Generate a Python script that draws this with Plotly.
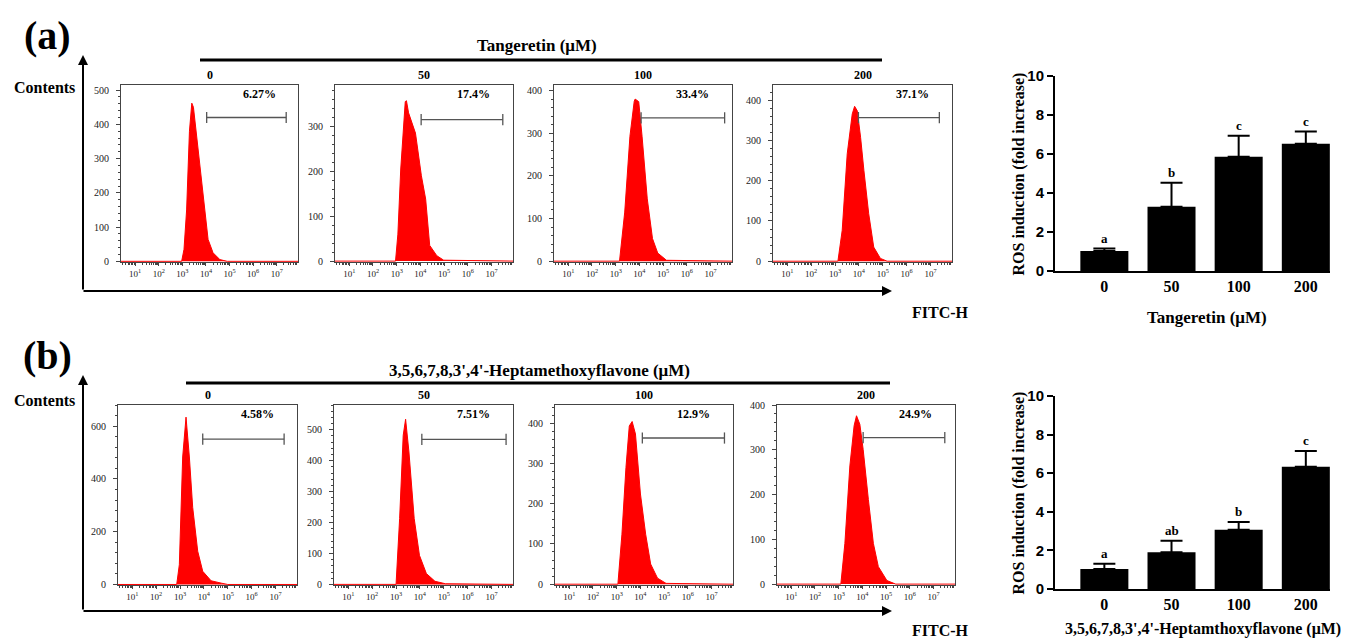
import plotly.graph_objects as go

W, H = 1356, 639
OFF = 8  # page body margin in the browser
FW, FH = W - OFF, H - OFF

# ---------------- data ----------------
concentrations = ["0", "50", "100", "200"]
pct_tan = ["6.27%", "17.4%", "33.4%", "37.1%"]
pct_hep = ["4.58%", "7.51%", "12.9%", "24.9%"]

decade_tickvals = [1e1, 1e2, 1e3, 1e4, 1e5, 1e6, 1e7]
decade_ticktext = ["10<sup>1</sup>", "10<sup>2</sup>", "10<sup>3</sup>", "10<sup>4</sup>",
                   "10<sup>5</sup>", "10<sup>6</sup>", "10<sup>7</sup>"]

# histograms: log10(FITC-H) vs counts
tan0_e = [0.4, 2.97, 3.07, 3.18, 3.30, 3.40, 3.47, 3.60, 3.88, 4.09, 4.30, 4.59, 4.9, 7.9]
tan0_c = [0, 0, 35, 150, 380, 462, 450, 365, 190, 64, 25, 5, 0, 0]
tan50_e = [0.4, 2.95, 3.05, 3.17, 3.36, 3.41, 3.50, 3.60, 3.79, 4.04, 4.22, 4.39, 4.69, 4.98, 7.9]
tan50_c = [0, 0, 60, 205, 355, 357, 330, 315, 285, 190, 138, 35, 12, 2, 0]
tan100_e = [0.4, 3.16, 3.38, 3.60, 3.78, 3.82, 3.97, 4.11, 4.33, 4.55, 4.77, 5.14, 7.9]
tan100_c = [0, 0, 115, 293, 375, 380, 374, 293, 146, 53, 19, 2, 0]
tan200_e = [0.4, 3.12, 3.30, 3.51, 3.72, 3.82, 3.93, 4.07, 4.21, 4.41, 4.62, 4.90, 5.18, 7.9]
tan200_c = [0, 0, 77, 267, 366, 385, 374, 308, 225, 118, 35, 7, 0, 0]

hep0_e = [0.4, 2.86, 2.97, 3.11, 3.25, 3.39, 3.53, 3.74, 3.95, 4.30, 4.73, 5.0, 7.9]
hep0_c = [0, 0, 75, 483, 634, 483, 292, 126, 50, 14, 5, 0, 0]
hep50_e = [0.4, 3.0, 3.15, 3.30, 3.40, 3.54, 3.76, 3.98, 4.27, 4.63, 5.07, 7.9]
hep50_c = [0, 0, 213, 482, 534, 428, 213, 94, 35, 10, 2, 0]
hep100_e = [0.4, 3.05, 3.22, 3.39, 3.53, 3.65, 3.79, 4.00, 4.22, 4.43, 4.72, 5.08, 7.9]
hep100_c = [0, 0, 124, 290, 393, 404, 373, 224, 124, 50, 15, 2, 0]
hep200_e = [0.4, 3.09, 3.26, 3.47, 3.65, 3.75, 3.89, 4.03, 4.25, 4.46, 4.67, 5.03, 5.4, 7.9]
hep200_c = [0, 0, 91, 264, 354, 376, 357, 301, 189, 91, 39, 8, 0, 0]

# gate markers (log10 start, log10 end, count level)
gate_tan_e = [[4.03, 7.40], [4.03, 7.47], [4.07, 7.59], [3.98, 7.37]]
gate_tan_y = [420, 315, 336, 357]
gate_hep_e = [[3.95, 7.36], [4.08, 7.61], [4.08, 7.54], [4.03, 7.47]]
gate_hep_y = [551, 469, 363, 327]

# y-axis maxima of the histograms
ymax_tan = [515, 392, 413, 438]
ymax_hep = [680, 580, 445, 400]
ydtick_tan = [100, 100, 100, 100]
ydtick_hep = [200, 100, 100, 100]

# ROS bar charts
ros_tan = [1.03, 3.29, 5.86, 6.53]
ros_tan_err = [0.12, 1.23, 1.07, 0.62]
ros_tan_sig = ["a", "b", "c", "c"]
ros_hep = [1.03, 1.91, 3.07, 6.34]
ros_hep_err = [0.28, 0.59, 0.40, 0.81]
ros_hep_sig = ["a", "ab", "b", "c"]

# ---------------- layout helpers ----------------
SERIF = "Liberation Serif"
SANS = "Liberation Sans"


def pxx(x):
    return (x - OFF) / FW


def pxy(y):
    return 1 - (y - OFF) / FH


fig = go.Figure()

hist_top = [(121, 298), (335, 513), (554, 732), (773, 952)]
hist_bot = [(118, 297), (334, 513), (555, 733), (777, 955)]
top_y = (85, 262)
bot_y = (405, 585)

minor_vals = [m * 10 ** k for k in range(0, 8) for m in range(2, 10)]

hist_sets = [
    (tan0_e, tan0_c), (tan50_e, tan50_c), (tan100_e, tan100_c), (tan200_e, tan200_c),
    (hep0_e, hep0_c), (hep50_e, hep50_c), (hep100_e, hep100_c), (hep200_e, hep200_c),
]
gates_e = gate_tan_e + gate_hep_e
gates_y = gate_tan_y + gate_hep_y
ymaxs = ymax_tan + ymax_hep
ydticks = ydtick_tan + ydtick_hep
pcts = pct_tan + pct_hep
annotations = []
shapes = []

for i in range(8):
    n = i + 1
    xs = "x" if n == 1 else f"x{n}"
    ys = "y" if n == 1 else f"y{n}"
    xa = "xaxis" if n == 1 else f"xaxis{n}"
    ya = "yaxis" if n == 1 else f"yaxis{n}"
    if i < 4:
        x0, x1 = hist_top[i]
        y0, y1 = top_y
    else:
        x0, x1 = hist_bot[i - 4]
        y0, y1 = bot_y
    e, c = hist_sets[i]
    fig.add_trace(go.Scatter(
        x=[10 ** v for v in e], y=c, mode="lines", fill="tozeroy",
        line=dict(color="#ff0000", width=1), fillcolor="#ff0000",
        xaxis=xs, yaxis=ys, showlegend=False, hoverinfo="skip"))
    ge = gates_e[i]
    fig.add_trace(go.Scatter(
        x=[10 ** ge[0], 10 ** ge[1]], y=[gates_y[i], gates_y[i]],
        mode="lines+markers", line=dict(color="#555555", width=1.3),
        marker=dict(symbol="line-ns-open", size=8, line=dict(color="#555555", width=1.3)),
        xaxis=xs, yaxis=ys, showlegend=False, hoverinfo="skip"))
    fig.update_layout({
        xa: dict(domain=[pxx(x0), pxx(x1)], anchor=ys, type="log", range=[0.4, 7.9],
                 automargin=False,
                 tickmode="array", tickvals=decade_tickvals, ticktext=decade_ticktext,
                 ticks="outside", ticklen=3, tickcolor="#444", showgrid=False,
                 showline=True, mirror=True, linecolor="#444", linewidth=1,
                 tickfont=dict(family=SERIF, size=9, color="#222"), zeroline=False,
                 minor=dict(tickmode="array", tickvals=minor_vals, ticks="outside",
                            ticklen=2, tickcolor="#444", showgrid=False)),
        ya: dict(domain=[pxy(y1), pxy(y0)], anchor=xs, range=[-2, ymaxs[i]],
                 automargin=False, ticklabelstandoff=5,
                 tick0=0, dtick=ydticks[i], ticks="outside", ticklen=4, tickcolor="#444",
                 showgrid=False, zeroline=False, showline=True, mirror=True,
                 linecolor="#444", linewidth=1,
                 tickfont=dict(family=SERIF, size=10, color="#222"),
                 minor=dict(dtick=ydticks[i] / 5, ticks="outside", ticklen=2,
                            tickcolor="#444", showgrid=False)),
    })
    # panel title
    annotations.append(dict(text=concentrations[i % 4], xref=f"{xs} domain", yref=f"{ys} domain",
                            x=0.5, y=1, xanchor="center", yanchor="bottom", yshift=1,
                            showarrow=False,
                            font=dict(family=SERIF, size=12, color="black", weight="bold")))
    # percent label
    annotations.append(dict(text=pcts[i], xref=f"{xs} domain", yref=f"{ys} domain",
                            x=0.78, y=0.95, xanchor="center", yanchor="middle", showarrow=False,
                            font=dict(family=SERIF, size=12, color="black", weight="bold")))

# ---------------- bar charts ----------------
bar_x = (1055, 1330)
bar_sets = [
    (ros_tan, ros_tan_err, ros_tan_sig, (76, 271), "Tangeretin (μM)", 317, 1207),
    (ros_hep, ros_hep_err, ros_hep_sig, (396, 589), "3,5,6,7,8,3',4'-Heptamthoxyflavone (μM)", 629, 1203),
]
for j, (vals, errs, sig, (yt, yb), xtitle, ty, tx) in enumerate(bar_sets):
    n = 9 + j
    xs, ys = f"x{n}", f"y{n}"
    fig.add_trace(go.Bar(
        x=concentrations, y=vals, marker=dict(color="black", line=dict(width=0)),
        error_y=dict(type="data", symmetric=False, array=errs, arrayminus=[0] * len(errs),
                     color="black", thickness=2, width=11),
        xaxis=xs, yaxis=ys, showlegend=False))
    fig.update_layout({
        f"xaxis{n}": dict(domain=[pxx(bar_x[0]), pxx(bar_x[1])], anchor=ys, type="category",
                          range=[-0.735, 3.36], showline=True, linecolor="black", linewidth=2,
                          ticks="", showgrid=False, automargin=False,
                          tickfont=dict(family=SERIF, size=16, color="black", weight="bold")),
        f"yaxis{n}": dict(domain=[pxy(yb), pxy(yt)], anchor=xs, range=[0, 10], dtick=2,
                          ticks="outside", ticklen=6, tickwidth=2, tickcolor="black",
                          showline=True, linecolor="black", linewidth=2, showgrid=False,
                          zeroline=False, automargin=False,
                          tickfont=dict(family=SANS, size=15, color="black", weight="bold")),
    })
    annotations.append(dict(text=xtitle, xref="paper", yref="paper", x=pxx(tx), y=pxy(ty),
                            xanchor="center", yanchor="middle", showarrow=False,
                            font=dict(family=SERIF, size=16 if j else 17, color="black",
                                      weight="bold")))
    annotations.append(dict(text="ROS induction (fold increase)", xref="paper", yref="paper",
                            x=pxx(1018), y=pxy((yt + yb) / 2), textangle=-90,
                            xanchor="center", yanchor="middle", showarrow=False,
                            font=dict(family=SERIF, size=16, color="black", weight="bold")))
    for k in range(4):
        annotations.append(dict(text=sig[k], xref=xs, yref=ys, x=k,
                                y=vals[k] + errs[k], xanchor="center", yanchor="bottom",
                                yshift=1, showarrow=False,
                                font=dict(family=SERIF, size=13, color="black", weight="bold")))

fig.update_layout(bargap=0.285)

# ---------------- figure-level text and frames ----------------
def ptext(text, x, y, size):
    annotations.append(dict(text=text, xref="paper", yref="paper", x=pxx(x), y=pxy(y),
                            xanchor="center", yanchor="middle", showarrow=False,
                            font=dict(family=SERIF, size=size, color="black", weight="bold")))


ptext("(a)", 47, 35, 40)
ptext("(b)", 47, 355, 40)
ptext("Tangeretin (μM)", 537, 45, 17)
ptext("3,5,6,7,8,3',4'-Heptamethoxyflavone (μM)", 539, 370, 17)
ptext("Contents", 44, 88, 16)
ptext("Contents", 44, 400, 16)
ptext("FITC-H", 940, 312, 16)
ptext("FITC-H", 940, 630, 16)

for (lx0, lx1, ly) in [(200, 882, 60), (186, 890, 383)]:
    shapes.append(dict(type="line", xref="paper", yref="paper", x0=pxx(lx0), x1=pxx(lx1),
                       y0=pxy(ly), y1=pxy(ly), line=dict(color="black", width=3)))

# L-shaped axes with arrowheads
for (top, bottom) in [(55, 291), (375, 611)]:
    annotations.append(dict(x=pxx(83), y=pxy(top), ax=0, ay=bottom - top,
                            xref="paper", yref="paper", axref="pixel", ayref="pixel",
                            text="", showarrow=True, arrowhead=2, arrowsize=1, arrowwidth=2,
                            arrowcolor="black"))
    annotations.append(dict(x=pxx(892), y=pxy(bottom), ax=-(892 - 82), ay=0,
                            xref="paper", yref="paper", axref="pixel", ayref="pixel",
                            text="", showarrow=True, arrowhead=2, arrowsize=1, arrowwidth=2,
                            arrowcolor="black"))

fig.update_layout(
    template="none",
    width=FW, height=FH, autosize=False,
    margin=dict(l=0, r=0, t=0, b=0, pad=0),
    paper_bgcolor="white", plot_bgcolor="white",
    annotations=annotations, shapes=shapes,
)

fig.write_html("out.html")
